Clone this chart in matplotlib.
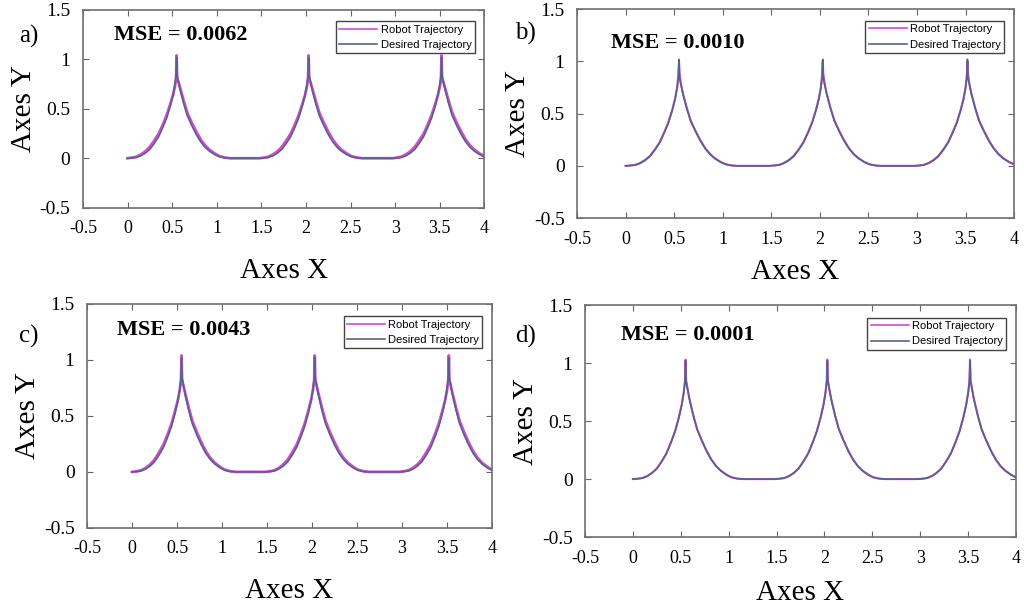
import matplotlib
matplotlib.use("Agg")
import matplotlib.pyplot as plt

# shared x grid of the trajectories (three cusps)
x_traj = [0.00, 0.05, 0.10, 0.15, 0.20, 0.25, 0.30, 0.35, 0.40, 0.44, 0.48, 0.51, 0.53, 0.544, 0.55,
          0.556, 0.57, 0.59, 0.63, 0.67, 0.72, 0.77, 0.82, 0.87, 0.92, 0.98, 1.03, 1.09, 1.15,
          1.48, 1.53, 1.58, 1.63, 1.68, 1.73, 1.78, 1.83, 1.88, 1.92, 1.96, 1.99, 2.01, 2.024, 2.03,
          2.036, 2.05, 2.07, 2.11, 2.15, 2.20, 2.25, 2.30, 2.35, 2.40, 2.46, 2.51, 2.57, 2.63,
          2.97, 3.02, 3.07, 3.12, 3.17, 3.22, 3.27, 3.32, 3.37, 3.41, 3.45, 3.48, 3.50, 3.514, 3.52,
          3.526, 3.54, 3.56, 3.60, 3.64, 3.69, 3.74, 3.79, 3.84, 3.89, 3.95, 4.00]

# y values of one cusp (the three cusps look the same)
cusp_desired = [0, 0.003, 0.008, 0.025, 0.052, 0.09, 0.15, 0.22, 0.32, 0.41, 0.53, 0.64, 0.74, 0.84, 1.02,
                0.84, 0.78, 0.69, 0.55, 0.43, 0.33, 0.24, 0.166, 0.11, 0.07, 0.035, 0.015, 0.004, 0]
cusp_robot_a = [0, 0.006, 0.016, 0.038, 0.07, 0.115, 0.18, 0.25, 0.35, 0.44, 0.55, 0.64, 0.72, 0.80, 1.04,
                0.80, 0.77, 0.71, 0.58, 0.46, 0.36, 0.27, 0.19, 0.13, 0.085, 0.047, 0.022, 0.007, 0]
cusp_robot_b = [0, 0.004, 0.010, 0.028, 0.056, 0.095, 0.155, 0.226, 0.326, 0.415, 0.535, 0.645, 0.75, 0.88, 1.00,
                0.88, 0.785, 0.695, 0.555, 0.435, 0.335, 0.245, 0.17, 0.114, 0.073, 0.037, 0.016, 0.004, 0]
cusp_robot_c = [0, 0.005, 0.014, 0.035, 0.066, 0.11, 0.175, 0.245, 0.345, 0.435, 0.55, 0.645, 0.73, 0.82, 1.04,
                0.82, 0.775, 0.705, 0.575, 0.455, 0.355, 0.265, 0.185, 0.125, 0.082, 0.044, 0.02, 0.006, 0]
cusp_robot_d = [0, 0.003, 0.009, 0.026, 0.053, 0.092, 0.152, 0.222, 0.322, 0.412, 0.532, 0.642, 0.742, 0.85, 1.03,
                0.85, 0.782, 0.692, 0.552, 0.432, 0.332, 0.242, 0.167, 0.111, 0.071, 0.036, 0.015, 0.004, 0]

# the last cusp is cut off at x = 4
y_desired = cusp_desired + cusp_desired + cusp_desired[:-2]
y_robot_a = cusp_robot_a + cusp_robot_a + cusp_robot_a[:-2]
y_robot_b = cusp_robot_b + cusp_robot_b + cusp_robot_b[:-2]
y_robot_c = cusp_robot_c + cusp_robot_c + cusp_robot_c[:-2]
y_robot_d = cusp_robot_d + cusp_robot_d + cusp_robot_d[:-2]

panel_tags = ["a)", "b)", "c)", "d)"]
mse_values = ["0.0062", "0.0010", "0.0043", "0.0001"]
robot_series = [y_robot_a, y_robot_b, y_robot_c, y_robot_d]

x_ticks = [-0.5, 0, 0.5, 1, 1.5, 2, 2.5, 3, 3.5, 4]
x_tick_labels = ["-0.5", "0", "0.5", "1", "1.5", "2", "2.5", "3", "3.5", "4"]
y_ticks = [-0.5, 0, 0.5, 1, 1.5]
y_tick_labels = ["-0.5", "0", "0.5", "1", "1.5"]

SERIF = "Liberation Serif"
robot_col = "#d24cd2"
desired_col = "#55638a"

fig = plt.figure(figsize=(10.24, 6.11), dpi=100)

# axes boxes in figure fractions [left, bottom, width, height]
boxes = [[0.081, 0.660, 0.392, 0.324],
         [0.5635, 0.643, 0.4268, 0.342],
         [0.085, 0.136, 0.3955, 0.3666],
         [0.5713, 0.121, 0.4209, 0.3797]]
robot_lw = [2.0, 1.5, 2.0, 1.5]
xlabel_pad = [15, 8, 15, 10]
# panel tag / MSE text positions in figure fractions
tag_pos = [(0.019, 0.930), (0.503, 0.935), (0.019, 0.440), (0.503, 0.440)]
mse_pos = [(0.111, 0.935), (0.597, 0.922), (0.114, 0.451), (0.606, 0.443)]

for i in range(4):
    ax = fig.add_axes(boxes[i])
    ax.plot(x_traj, robot_series[i], color=robot_col, lw=robot_lw[i], label="Robot Trajectory", zorder=2)
    ax.plot(x_traj, y_desired, color=desired_col, lw=1.2, label="Desired Trajectory", zorder=3)
    ax.set_xlim(-0.5, 4.0)
    ax.set_ylim(-0.5, 1.5)
    ax.set_xticks(x_ticks)
    ax.set_xticklabels(x_tick_labels, family=SERIF, fontsize=13)
    ax.set_yticks(y_ticks)
    ax.set_yticklabels(y_tick_labels, family=SERIF, fontsize=14)
    ax.tick_params(direction="in", top=True, right=True, length=4, color="#666666", pad=9)
    for sp in ax.spines.values():
        sp.set_color("#707070")
        sp.set_linewidth(1.2)
    ax.set_xlabel("Axes X", family=SERIF, fontsize=21, labelpad=xlabel_pad[i])
    ax.set_ylabel("Axes Y", family=SERIF, fontsize=21, labelpad=2)
    leg = ax.legend(loc="upper right", prop={"family": "Liberation Sans", "size": 8},
                    handlelength=3.4, handletextpad=0.3, borderpad=0.3, labelspacing=0.5,
                    fancybox=False, framealpha=1, edgecolor="#444444",
                    bbox_to_anchor=(0.99, 0.97))
    leg.get_frame().set_linewidth(1.0)
    # thin handle lines as in the reference legend
    for h in leg.get_lines():
        h.set_linewidth(1.2)
    fig.text(tag_pos[i][0], tag_pos[i][1], panel_tags[i], family=SERIF, fontsize=18)
    fig.text(mse_pos[i][0], mse_pos[i][1], "MSE = " + mse_values[i], family=SERIF,
             fontsize=16, fontweight="bold")

fig.savefig("out.png", dpi=100)
